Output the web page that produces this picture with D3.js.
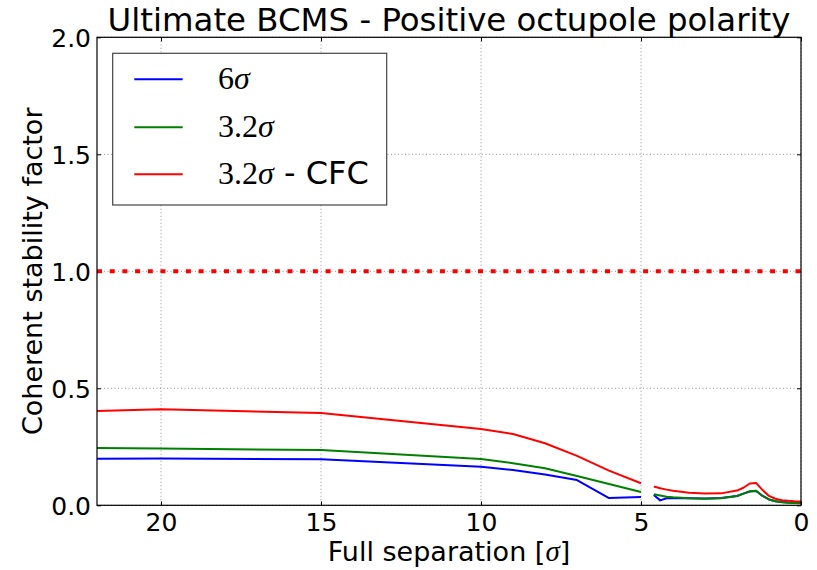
<!DOCTYPE html>
<html><head><meta charset="utf-8">
<script src="https://cdn.jsdelivr.net/npm/d3@7"></script>
<style>body{margin:0;background:#fff}svg{display:block}</style>
</head><body><svg id="c" width="817" height="570"></svg>
<script>
const separation = [22,20,15,10,9,8,7,6,5,4.8,4.6,4.4,4.2,4.0,3.5,3.0,2.5,2.0,1.8,1.6,1.4,1.2,1.0,0.8,0.6,0.4,0.2,0];
const sigma6    = [0.199,0.200,0.197,0.165,0.151,0.132,0.108,0.031,0.035,null,0.044,0.021,0.030,0.031,0.030,0.029,0.031,0.040,0.050,0.059,0.061,0.040,0.025,0.017,0.014,0.012,0.011,0.010];
const sigma32   = [0.245,0.243,0.236,0.198,0.180,0.158,0.125,0.091,0.057,null,0.047,0.042,0.037,0.034,0.030,0.028,0.030,0.040,0.050,0.060,0.062,0.040,0.025,0.017,0.013,0.011,0.010,0.009];
const sigma32cfc= [0.403,0.410,0.394,0.326,0.305,0.265,0.211,0.148,0.094,null,0.080,0.073,0.067,0.062,0.054,0.050,0.051,0.063,0.075,0.093,0.095,0.065,0.040,0.028,0.022,0.019,0.017,0.016];
const seriesNames = ["6σ","3.2σ","3.2σ - CFC"];
const seriesColors = ["#0000ff","#008000","#ff0000"];
const xTicks = [20,15,10,5,0];
const yTicks = [0.0,0.5,1.0,1.5,2.0];
const threshold = 1.0;

const svg = d3.select("#c");
const L = 97, R = 801, T = 37.3, B = 505.3;
const x = d3.scaleLinear().domain([22,0]).range([L,R]);
const y = d3.scaleLinear().domain([0,2]).range([B,T]);
const sans = "'DejaVu Sans', sans-serif";
const serif = "'Liberation Serif', 'DejaVu Serif', serif";

// grid
const g = svg.append("g");
g.selectAll(".gx").data(xTicks).enter().append("line")
  .attr("x1",d=>x(d)).attr("x2",d=>x(d)).attr("y1",T).attr("y2",B)
  .attr("stroke","#777").attr("stroke-width",0.8).attr("stroke-dasharray","1,2.5");
g.selectAll(".gy").data(yTicks).enter().append("line")
  .attr("y1",d=>y(d)).attr("y2",d=>y(d)).attr("x1",L).attr("x2",R)
  .attr("stroke","#777").attr("stroke-width",0.8).attr("stroke-dasharray","1,2.5");

// axes
const ax = svg.append("g").attr("transform",`translate(0,${B})`)
  .call(d3.axisBottom(x).tickValues(xTicks).tickFormat(d3.format("d")).tickSizeInner(-4).tickSizeOuter(0).tickPadding(8));
const ay = svg.append("g").attr("transform",`translate(${L},0)`)
  .call(d3.axisLeft(y).tickValues(yTicks).tickFormat(d3.format(".1f")).tickSizeInner(-4).tickSizeOuter(0).tickPadding(6));
const axT = svg.append("g").attr("transform",`translate(0,${T})`)
  .call(d3.axisTop(x).tickValues(xTicks).tickFormat("").tickSizeInner(-4).tickSizeOuter(0));
const ayR = svg.append("g").attr("transform",`translate(${R},0)`)
  .call(d3.axisRight(y).tickValues(yTicks).tickFormat("").tickSizeInner(-4).tickSizeOuter(0));
[ax,ay,axT,ayR].forEach(a=>{a.select(".domain").remove(); a.selectAll("line").attr("stroke","#000");});
ax.selectAll("text").attr("font-family",sans).attr("font-size",25).attr("fill","#000").attr("dy","0.71em");
ay.selectAll("text").attr("font-family",sans).attr("font-size",25).attr("fill","#000").attr("dy","0.36em");

// threshold
svg.append("line").attr("x1",L).attr("x2",R).attr("y1",y(threshold)).attr("y2",y(threshold))
  .attr("stroke","#ff0000").attr("stroke-width",4).attr("stroke-dasharray","5,7.7");

// series
const allSeries = [sigma6, sigma32, sigma32cfc];
const line = d3.line().defined(d=>d[1]!=null).x(d=>x(d[0])).y(d=>y(d[1]));
allSeries.forEach((s,i)=>{
  svg.append("path").datum(separation.map((v,j)=>[v,s[j]]))
    .attr("d",line).attr("fill","none").attr("stroke",seriesColors[i]).attr("stroke-width",2)
    .attr("stroke-linejoin","round");
});

// frame
svg.append("rect").attr("x",L).attr("y",T).attr("width",R-L).attr("height",B-T)
  .attr("fill","none").attr("stroke","#000").attr("stroke-width",1.2);

// legend
const lg = svg.append("g");
lg.append("rect").attr("x",112.7).attr("y",53.3).attr("width",274).attr("height",151.7)
  .attr("fill","#fff").attr("stroke","#444").attr("stroke-width",1.2);
const rows = [79.3,127.3,174.3];
seriesNames.forEach((n,i)=>{
  lg.append("line").attr("x1",134.3).attr("x2",182.7).attr("y1",rows[i]).attr("y2",rows[i])
    .attr("stroke",seriesColors[i]).attr("stroke-width",2);
  const t = lg.append("text").attr("x",218).attr("y",rows[i]+10).attr("font-size",32).attr("fill","#000");
  const num = n.split("σ")[0];
  const rest = n.split("σ")[1];
  t.append("tspan").attr("font-family",serif).text(num);
  t.append("tspan").attr("font-family",serif).attr("font-style","italic").text("σ");
  if (rest) t.append("tspan").attr("font-family",sans).attr("font-size",32).text(rest);
});

// title and labels
svg.append("text").attr("x",(L+R)/2).attr("y",31).attr("text-anchor","middle")
  .attr("font-family",sans).attr("font-size",32.4).text("Ultimate BCMS - Positive octupole polarity");
const xl = svg.append("text").attr("x",(L+R)/2).attr("y",561).attr("text-anchor","middle")
  .attr("font-family",sans).attr("font-size",27);
xl.append("tspan").text("Full separation [");
xl.append("tspan").attr("font-family",serif).attr("font-style","italic").attr("font-size",29).text("σ");
xl.append("tspan").text("]");
svg.append("text").attr("transform",`translate(42,${(T+B)/2}) rotate(-90)`).attr("text-anchor","middle")
  .attr("font-family",sans).attr("font-size",27).text("Coherent stability factor");
</script></body></html>
